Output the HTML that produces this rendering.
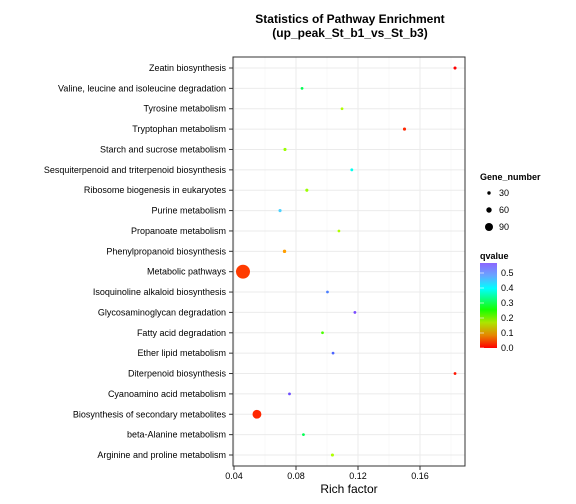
<!DOCTYPE html>
<html><head><meta charset="utf-8"><style>
body{margin:0;background:#fff;}
svg{display:block;font-family:"Liberation Sans",Arial,sans-serif;}
</style></head><body>
<svg id="chart" width="576" height="504">
<defs>
<linearGradient id="qgrad" x1="0" y1="1" x2="0" y2="0">
<stop offset="0" stop-color="hsl(0,100%,50%)"/>
<stop offset="0.15" stop-color="hsl(35,100%,45%)"/>
<stop offset="0.3" stop-color="hsl(75,100%,45%)"/>
<stop offset="0.45" stop-color="hsl(115,100%,50%)"/>
<stop offset="0.7" stop-color="hsl(180,100%,50%)"/>
<stop offset="0.85" stop-color="hsl(215,100%,70%)"/>
<stop offset="1" stop-color="hsl(255,100%,70%)"/>
</linearGradient>
</defs>
<text x="350" y="23" text-anchor="middle" font-size="12" font-weight="bold">Statistics of Pathway Enrichment</text>
<text x="350" y="37" text-anchor="middle" font-size="12" font-weight="bold">(up_peak_St_b1_vs_St_b3)</text>
<g id="grid"></g>
<g id="marks"></g>
<rect x="233" y="57" width="232" height="409" fill="none" stroke="#333" stroke-width="1"/>
<g id="axes"></g>
<text x="349" y="493" text-anchor="middle" font-size="12">Rich factor</text>
<g>
<text x="480" y="180" font-size="9" font-weight="bold">Gene_number</text>
<circle cx="489" cy="193" r="1.7" fill="#000"/>
<text x="499" y="196" font-size="9">30</text>
<circle cx="489" cy="210" r="2.7" fill="#000"/>
<text x="499" y="213" font-size="9">60</text>
<circle cx="489" cy="227" r="4" fill="#000"/>
<text x="499" y="230" font-size="9">90</text>
</g>
<g>
<text x="480" y="259" font-size="9" font-weight="bold">qvalue</text>
<rect x="480" y="263" width="17" height="85" fill="url(#qgrad)"/>
<g id="qticks"></g>
</g>
</svg>
<script>
const categories=["Zeatin biosynthesis","Valine, leucine and isoleucine degradation","Tyrosine metabolism","Tryptophan metabolism","Starch and sucrose metabolism","Sesquiterpenoid and triterpenoid biosynthesis","Ribosome biogenesis in eukaryotes","Purine metabolism","Propanoate metabolism","Phenylpropanoid biosynthesis","Metabolic pathways","Isoquinoline alkaloid biosynthesis","Glycosaminoglycan degradation","Fatty acid degradation","Ether lipid metabolism","Diterpenoid biosynthesis","Cyanoamino acid metabolism","Biosynthesis of secondary metabolites","beta-Alanine metabolism","Arginine and proline metabolism"];
const richFactor=[0.1826,0.0839,0.1097,0.150,0.0729,0.116,0.087,0.0697,0.1077,0.0726,0.0458,0.1003,0.118,0.0971,0.1039,0.1826,0.0758,0.0548,0.0848,0.1035];
const geneNumber=[10,5,5,10,10,6,10,10,5,14,165,5,6,5,5,6,6,92,5,10];
const qvalue=[0.0,0.3,0.17,0.02,0.18,0.38,0.18,0.42,0.17,0.08,0.03,0.48,0.55,0.22,0.5,0.01,0.54,0.02,0.3,0.17];
const xTicks=[0.04,0.08,0.12,0.16];
const xMinor=[0.06,0.10,0.14,0.18];
const qTicks=[0.0,0.1,0.2,0.3,0.4,0.5];

const NS="http://www.w3.org/2000/svg";
const X=v=>234+(v-0.04)*1550;
const Y=i=>68+i*(387/19);
const R=n=>1.2+n*0.035;
const Q=q=>348-q*150;
const col=q=>{const h=Math.min(q/0.56,1)*260;const l=h>190?65:50;return `hsl(${h},100%,${l}%)`;};
function mk(t,a,p){const e=document.createElementNS(NS,t);for(const k in a)e.setAttribute(k,a[k]);p.appendChild(e);return e;}
const grid=document.getElementById('grid'),marks=document.getElementById('marks'),axes=document.getElementById('axes'),qt=document.getElementById('qticks');
xMinor.forEach(v=>{const l=mk('line',{x1:X(v),x2:X(v),y1:57,y2:466,stroke:'#f4f4f4','stroke-width':0.6},grid);

});
xTicks.forEach(v=>{const l=mk('line',{x1:X(v),x2:X(v),y1:57,y2:466,stroke:'#ebebeb','stroke-width':1},grid);


const t=mk('line',{x1:X(v),x2:X(v),y1:466,y2:470,stroke:'#333'},axes);


const tx=mk('text',{x:X(v),y:479,'text-anchor':'middle','font-size':9},axes);tx.textContent=v.toFixed(2);

});
categories.forEach((c,i)=>{const y=Y(i);
const g=mk('line',{x1:233,x2:465,y1:y,y2:y,stroke:'#ebebeb'},grid);


const t=mk('line',{x1:229,x2:233,y1:y,y2:y,stroke:'#333'},axes);


const tx=mk('text',{x:226,y:y+3,'text-anchor':'end','font-size':9},axes);tx.textContent=c;


const p=mk('circle',{cx:X(richFactor[i]),cy:y,r:R(geneNumber[i]),fill:col(qvalue[i])},marks);

});
qTicks.forEach(q=>{const y=Q(q);
const l=mk('line',{x1:480,x2:484,y1:y,y2:y,stroke:'#fff','stroke-opacity':0.6},qt);


const tx=mk('text',{x:501,y:y+3,'font-size':9},qt);tx.textContent=q.toFixed(1);

});
</script>
</body></html>
